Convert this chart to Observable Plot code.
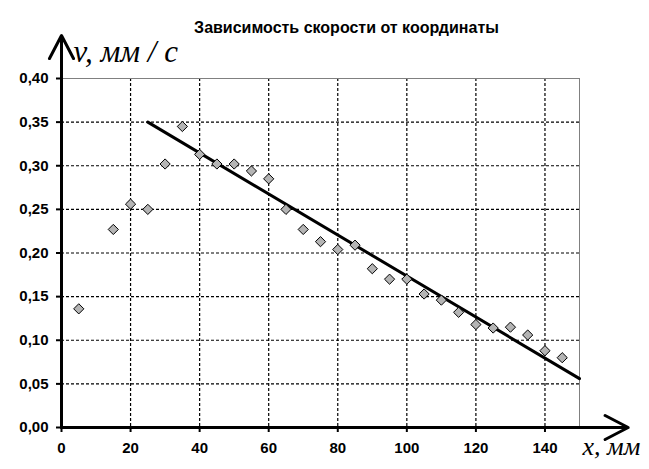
<!DOCTYPE html>
<html>
<head>
<meta charset="utf-8">
<script src="https://cdn.jsdelivr.net/npm/d3@7"></script>
<script src="https://cdn.jsdelivr.net/npm/@observablehq/plot@0.6"></script>
<style>
  body { margin: 0; background: #fff; overflow: hidden; }
  #chart svg { display: block; }
</style>
</head>
<body>
<div id="chart"></div>
<script>
// Data
const xCoord = [5, 15, 20, 25, 30, 35, 40, 45, 50, 55, 60, 65, 70, 75, 80, 85, 90, 95, 100, 105, 110, 115, 120, 125, 130, 135, 140, 145];
const velocity = [0.136, 0.227, 0.256, 0.250, 0.302, 0.345, 0.313, 0.302, 0.302, 0.294, 0.285, 0.250, 0.227, 0.213, 0.204, 0.209, 0.182, 0.170, 0.170, 0.153, 0.146, 0.132, 0.118, 0.114, 0.115, 0.106, 0.088, 0.080];
const trendX = [25, 150];
const trendV = [0.350, 0.056];
const xTicks = [0, 20, 40, 60, 80, 100, 120, 140];
const yTicks = [0, 0.05, 0.10, 0.15, 0.20, 0.25, 0.30, 0.35, 0.40];
const xGrid = [20, 40, 60, 80, 100, 120, 140];
const yGrid = [0.05, 0.10, 0.15, 0.20, 0.25, 0.30, 0.35];
const title = "Зависимость скорости от координаты";
const yLabel = "v, мм / с";
const xLabel = "x, мм";

const points = xCoord.map((x, i) => ({x, v: velocity[i]}));
const trend = trendX.map((x, i) => ({x, v: trendV[i]}));

const fmt = d => d.toFixed(2).replace(".", ",");

const chart = Plot.plot({
  width: 649,
  height: 469,
  marginLeft: 61,
  marginRight: 70,
  marginTop: 78,
  marginBottom: 42,
  style: {background: "#fff", fontFamily: "Arial, 'Liberation Sans', sans-serif", color: "#000"},
  x: {domain: [0, 150], axis: null},
  y: {domain: [0, 0.4], axis: null},
  marks: [
    Plot.ruleX(xGrid, {stroke: "#000", strokeWidth: 1.2, strokeDasharray: "3,2"}),
    Plot.ruleY(yGrid, {stroke: "#000", strokeWidth: 1.2, strokeDasharray: "3,2"}),
    Plot.frame({stroke: "#808080", strokeWidth: 1}),
    Plot.axisY({ticks: yTicks, tickFormat: fmt, tickSize: 5, tickPadding: 8, fontSize: 15, fontWeight: "bold", strokeWidth: 2, label: null}),
    Plot.axisX({ticks: xTicks, tickFormat: d => String(d), tickSize: 5, tickPadding: 10, fontSize: 15, fontWeight: "bold", strokeWidth: 2, label: null}),
    Plot.line(trend, {x: "x", y: "v", stroke: "#000", strokeWidth: 3}),
    Plot.dot(points, {x: "x", y: "v", symbol: "diamond2", r: 4.6, fill: "#b4b4b4", stroke: "#000", strokeWidth: 1}),
    Plot.arrow([{x1: 0, y1: 0, x2: 0, y2: 0.4493}], {x1: "x1", y1: "y1", x2: "x2", y2: "y2", stroke: "#000", strokeWidth: 3, headLength: 13, headAngle: 55}),
    Plot.arrow([{x1: 0, y1: 0, x2: 164.1, y2: 0}], {x1: "x1", y1: "y1", x2: "x2", y2: "y2", stroke: "#000", strokeWidth: 3, headLength: 13, headAngle: 55}),
    Plot.text([title], {text: d => d, frameAnchor: "top", dx: 26, dy: -57, fontSize: 16, fontWeight: "bold", fill: "#000"}),
    Plot.text([yLabel], {text: d => d, frameAnchor: "top-left", textAnchor: "start", lineAnchor: "bottom", dx: 12, dy: -17, fontSize: 31, fontStyle: "italic", fontFamily: "'Liberation Serif', 'Times New Roman', serif", fill: "#000"}),
    Plot.text([xLabel], {text: d => d, frameAnchor: "bottom-right", textAnchor: "start", lineAnchor: "bottom", dx: 3, dy: 27, fontSize: 26, fontStyle: "italic", fontFamily: "'Liberation Serif', 'Times New Roman', serif", fill: "#000"})
  ]
});
document.getElementById("chart").appendChild(chart);
</script>
</body>
</html>
